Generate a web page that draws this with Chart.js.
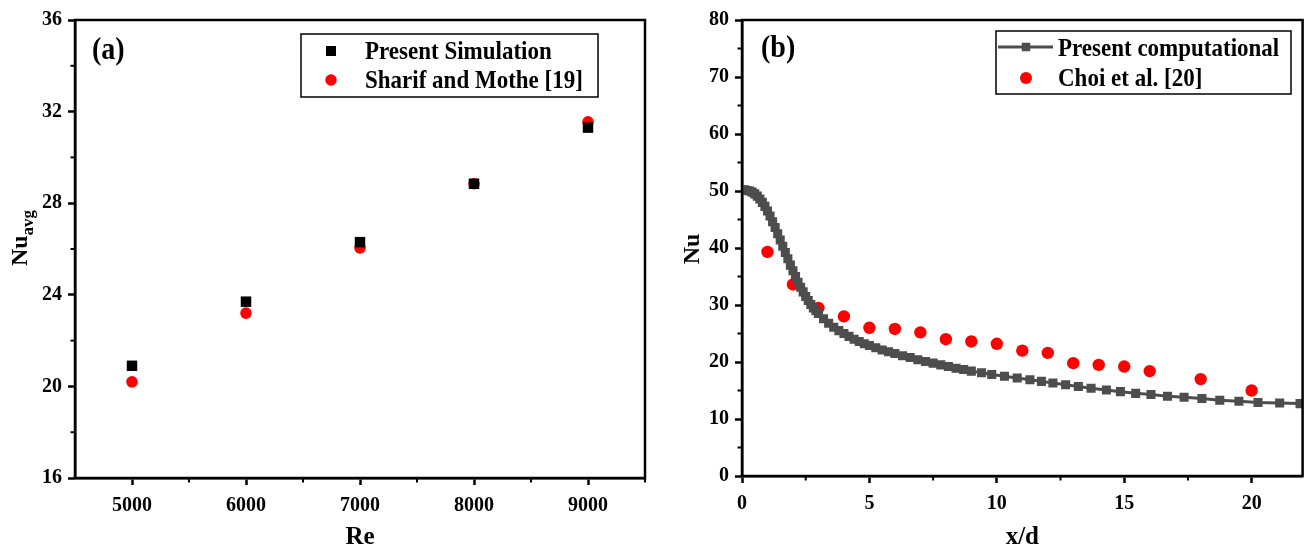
<!DOCTYPE html>
<html><head><meta charset="utf-8">
<script src="https://cdn.jsdelivr.net/npm/chart.js@4/dist/chart.umd.min.js"></script>
<style>
html,body{margin:0;padding:0;background:#fff;width:1309px;height:548px;overflow:hidden}
#ca{position:absolute;left:0;top:0}
#cb{position:absolute;left:660px;top:0}
</style></head><body>
<canvas id="ca" width="660" height="548"></canvas>
<canvas id="cb" width="649" height="548"></canvas>
<script>
// ---------- data: panel (a) ----------
const reValues = [5000, 6000, 7000, 8000, 9000];
const presentSimNu = [20.9, 23.7, 26.3, 28.85, 31.3];
const sharifMotheNu = [20.2, 23.2, 26.05, 28.85, 31.55];
const reTicks = [5000, 6000, 7000, 8000, 9000];
const reMinorTicks = [5500, 6500, 7500, 8500, 9500];
const nuAvgTicks = [16, 20, 24, 28, 32, 36];
const nuAvgMinorTicks = [18, 22, 26, 30, 34];

// ---------- data: panel (b) ----------
const xdPresent = [0, 0.1, 0.2, 0.3, 0.4, 0.5, 0.6, 0.7, 0.8, 0.9, 1.0, 1.1, 1.2, 1.3, 1.4, 1.5, 1.6, 1.7, 1.8, 1.9,
  2.0, 2.1, 2.2, 2.3, 2.4, 2.5, 2.6, 2.7, 2.8, 2.9, 3.0, 3.2, 3.4, 3.6, 3.8, 4.0, 4.2, 4.4, 4.6, 4.8,
  5.0, 5.25, 5.5, 5.75, 6.0, 6.3, 6.6, 6.9, 7.2, 7.5, 7.8, 8.1, 8.4, 8.7, 9.0, 9.4, 9.8, 10.3, 10.8, 11.3,
  11.75, 12.2, 12.7, 13.2, 13.7, 14.3, 14.85, 15.45, 16.05, 16.7, 17.35, 18.05, 18.75, 19.5, 20.25, 21.1, 21.9];
const nuPresent = [50.2, 50.2, 50.1, 50.0, 49.8, 49.5, 49.1, 48.6, 48.0, 47.3, 46.5, 45.6, 44.6, 43.6, 42.5, 41.4, 40.3, 39.2, 38.1, 37.0,
  36.0, 35.0, 34.0, 33.1, 32.3, 31.5, 30.8, 30.1, 29.5, 29.0, 28.5, 27.6, 26.8, 26.1, 25.5, 25.0, 24.5, 24.0, 23.6, 23.2,
  22.9, 22.5, 22.1, 21.8, 21.5, 21.1, 20.8, 20.4, 20.1, 19.8, 19.5, 19.2, 18.9, 18.7, 18.4, 18.1, 17.8, 17.5, 17.2, 16.9,
  16.6, 16.3, 16.0, 15.7, 15.4, 15.1, 14.8, 14.5, 14.3, 14.0, 13.8, 13.6, 13.3, 13.1, 12.9, 12.8, 12.7];
const xdChoi = [1, 2, 3, 4, 5, 6, 7, 8, 9, 10, 11, 12, 13, 14, 15, 16, 18, 20];
const nuChoi = [39.3, 33.6, 29.5, 28.0, 26.0, 25.8, 25.2, 24.0, 23.6, 23.2, 22.0, 21.6, 19.8, 19.5, 19.2, 18.4, 17.0, 15.0];
const xdTicks = [0, 5, 10, 15, 20];
const xdMinorTicks = [2.5, 7.5, 12.5, 17.5];
const nuTicks = [0, 10, 20, 30, 40, 50, 60, 70, 80];
const nuMinorTicks = [5, 15, 25, 35, 45, 55, 65, 75];

const FAM = '"Liberation Serif", "Times New Roman", serif';
const GRAY = '#4d4d4d';
const RED = '#ff0000';
const VSTRETCH = 1.12;
function bf(size, lh) { return { family: FAM, size: size, weight: 'bold', lineHeight: lh || 1.2 }; }
function pts(xs, ys) { return xs.map((x, i) => ({ x: x, y: ys[i] })); }

function makeScale(min, max, ticks, fitKey, fitVal, title) {
  const isX = fitKey === 'height';
  const s = {
    type: 'linear', min: min, max: max,
    afterBuildTicks: sc => { sc.ticks = ticks.map(v => ({ value: v })); },
    afterFit: sc => { sc[fitKey] = fitVal; },
    ticks: { color: '#000', font: bf(20), padding: isX ? 9 : 6, callback: v => String(v), maxRotation: 0, autoSkip: false },
    grid: { display: true, drawOnChartArea: false, drawTicks: true, tickLength: 7, tickWidth: 2.5, color: '#000' },
    border: { display: true, color: '#000', width: 2.5 }
  };
  if (title) s.title = { display: true, text: title, color: '#000', font: bf(25, 0.8), padding: { top: 0, bottom: 0 } };
  return s;
}

function stretchText(ctx, text, x, y) {
  ctx.save();
  ctx.translate(x, y);
  ctx.scale(1, VSTRETCH);
  ctx.fillText(text, 0, 0);
  ctx.restore();
}

function decorPlugin(cfg) {
  return {
    id: 'decor_' + cfg.label,
    afterDraw(chart) {
      const ctx = chart.ctx, a = chart.chartArea;
      const xs = chart.scales.x, ys = chart.scales.y;
      ctx.save();
      // frame
      ctx.strokeStyle = '#000'; ctx.lineWidth = 2.5;
      ctx.strokeRect(a.left, a.top, a.right - a.left, a.bottom - a.top);
      // minor ticks
      ctx.lineWidth = 2;
      cfg.minorX.forEach(v => {
        const p = xs.getPixelForValue(v);
        ctx.beginPath(); ctx.moveTo(p, a.bottom); ctx.lineTo(p, a.bottom + 4.5); ctx.stroke();
      });
      cfg.minorY.forEach(v => {
        const p = ys.getPixelForValue(v);
        ctx.beginPath(); ctx.moveTo(a.left, p); ctx.lineTo(a.left - 4.5, p); ctx.stroke();
      });
      // panel label
      ctx.fillStyle = '#000';
      ctx.font = 'bold 28px ' + FAM;
      ctx.textBaseline = 'alphabetic'; ctx.textAlign = 'left';
      stretchText(ctx, cfg.label, cfg.labelX, cfg.labelY);
      // legend box
      const b = cfg.box;
      ctx.lineWidth = 1.5; ctx.strokeStyle = '#000';
      ctx.strokeRect(b.x, b.y, b.w, b.h);
      cfg.items.forEach(it => {
        if (it.line) {
          ctx.strokeStyle = GRAY; ctx.lineWidth = 3;
          ctx.beginPath(); ctx.moveTo(it.line[0], it.my); ctx.lineTo(it.line[1], it.my); ctx.stroke();
        }
        ctx.fillStyle = it.color;
        if (it.shape === 'rect') {
          ctx.fillRect(it.mx - it.size / 2, it.my - it.size / 2, it.size, it.size);
        } else {
          ctx.beginPath(); ctx.arc(it.mx, it.my, it.size / 2, 0, Math.PI * 2); ctx.fill();
        }
        ctx.fillStyle = '#000';
        ctx.font = 'bold 23px ' + FAM;
        stretchText(ctx, it.text, it.tx, it.ty);
      });
      // y title (rotated, with optional subscript)
      const t = cfg.ytitle;
      ctx.translate(t.x, t.y);
      ctx.rotate(-Math.PI / 2);
      ctx.font = 'bold ' + t.size + 'px ' + FAM;
      const w1 = ctx.measureText(t.main).width;
      let w2 = 0;
      if (t.sub) { ctx.font = 'bold ' + t.subSize + 'px ' + FAM; w2 = ctx.measureText(t.sub).width; }
      const start = -(w1 + w2) / 2;
      ctx.fillStyle = '#000';
      ctx.font = 'bold ' + t.size + 'px ' + FAM;
      ctx.fillText(t.main, start, 0);
      if (t.sub) {
        ctx.font = 'bold ' + t.subSize + 'px ' + FAM;
        ctx.fillText(t.sub, start + w1, 6);
      }
      ctx.restore();
    }
  };
}

const common = {
  responsive: false, maintainAspectRatio: false, animation: false,
  plugins: { legend: { display: false }, tooltip: { enabled: false } }
};

// ---------- panel (a) ----------
new Chart(document.getElementById('ca'), {
  type: 'scatter',
  data: {
    datasets: [
      { label: 'Present Simulation', data: pts(reValues, presentSimNu), pointStyle: 'rect',
        pointRadius: 7.4, pointBorderWidth: 0, backgroundColor: '#000', borderColor: '#000' },
      { label: 'Sharif and Mothe [19]', data: pts(reValues, sharifMotheNu), pointStyle: 'circle',
        pointRadius: 5.8, pointBorderWidth: 0, backgroundColor: RED, borderColor: RED }
    ]
  },
  options: Object.assign({}, common, {
    layout: { padding: { top: 20, right: 15, left: 0, bottom: 0 } },
    scales: {
      x: makeScale(4500, 9500, reTicks, 'height', 70, 'Re'),
      y: makeScale(16, 36, nuAvgTicks, 'width', 75, null)
    }
  }),
  plugins: [decorPlugin({
    label: '(a)', labelX: 92, labelY: 59,
    minorX: reMinorTicks, minorY: nuAvgMinorTicks,
    box: { x: 301, y: 34, w: 297, h: 63 },
    items: [
      { shape: 'rect', color: '#000', size: 10, mx: 331, my: 51, text: 'Present Simulation', tx: 365, ty: 59 },
      { shape: 'circle', color: RED, size: 11.5, mx: 331, my: 80, text: 'Sharif and Mothe [19]', tx: 365, ty: 88 }
    ],
    ytitle: { x: 27, y: 238, main: 'Nu', size: 24, sub: 'avg', subSize: 17 }
  })]
});

// ---------- panel (b) ----------
new Chart(document.getElementById('cb'), {
  type: 'scatter',
  data: {
    datasets: [
      { label: 'Present computational', data: pts(xdPresent, nuPresent), showLine: true,
        borderColor: GRAY, borderWidth: 3, pointStyle: 'rect', pointRadius: 6.4, pointBorderWidth: 0,
        pointBackgroundColor: GRAY, backgroundColor: GRAY },
      { label: 'Choi et al. [20]', data: pts(xdChoi, nuChoi), pointStyle: 'circle',
        pointRadius: 6.2, pointBorderWidth: 0, backgroundColor: RED, borderColor: RED }
    ]
  },
  options: Object.assign({}, common, {
    layout: { padding: { top: 20, right: 2, left: 0, bottom: 0 } },
    scales: {
      x: makeScale(0, 22, xdTicks, 'height', 72, 'x/d'),
      y: makeScale(0, 80, nuTicks, 'width', 82, null)
    }
  }),
  plugins: [decorPlugin({
    label: '(b)', labelX: 101, labelY: 57,
    minorX: xdMinorTicks, minorY: nuMinorTicks,
    box: { x: 336, y: 31, w: 295, h: 63 },
    items: [
      { shape: 'rect', color: GRAY, size: 8.5, mx: 366, my: 47, line: [338, 393], text: 'Present computational', tx: 398, ty: 56 },
      { shape: 'circle', color: RED, size: 12, mx: 366, my: 78, text: 'Choi et al. [20]', tx: 398, ty: 86 }
    ],
    ytitle: { x: 39, y: 249, main: 'Nu', size: 24 }
  })]
});
</script>
</body></html>
